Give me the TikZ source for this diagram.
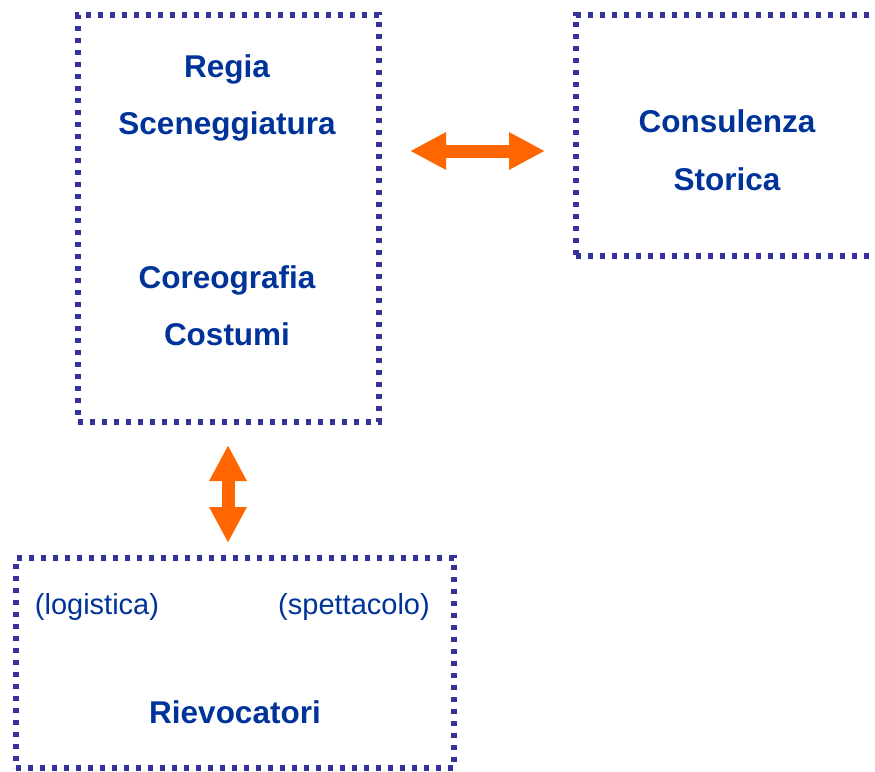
\documentclass[tikz,border=0pt]{standalone}
\usepackage{fontspec}
\setmainfont{Liberation Sans}
\usetikzlibrary{arrows.meta}
\definecolor{boxblue}{HTML}{333399}
\definecolor{txtblue}{HTML}{003399}
\definecolor{arrorange}{HTML}{FF6600}
\tikzset{
  dotbox/.style={draw=boxblue, line width=5.4pt, dash pattern=on 5.4pt off 6.6pt, fill=none, inner sep=0pt},
  boldtxt/.style={anchor=base, inner sep=0pt, text=txtblue, font=\fontsize{31.5}{38}\selectfont\bfseries},
  regtxt/.style={anchor=base, inner sep=0pt, text=txtblue, font=\fontsize{29}{35}\selectfont},
  bigarrow/.style={draw=arrorange, line width=13pt, {Triangle[length=36pt,width=35pt]}-{Triangle[length=36pt,width=35pt]}}
}
\begin{document}
\begin{tikzpicture}[x=1pt,y=-1pt]
\useasboundingbox (0,0) rectangle (875,771);
\clip (0,0) rectangle (875,771);
% boxes
\node[dotbox, minimum width=301pt, minimum height=407pt] (regia) at (228.5,218.5) {};
\node[dotbox, minimum width=440pt, minimum height=241pt] (consul) at (796,135.5) {};
\node[dotbox, minimum width=438pt, minimum height=210pt] (riev) at (235,663) {};
% texts
\node[boldtxt] (t1) at (227,77) {Regia};
\node[boldtxt] (t2) at (227,134) {Sceneggiatura};
\node[boldtxt] (t3) at (227,288) {Coreografia};
\node[boldtxt] (t4) at (227,345) {Costumi};
\node[boldtxt] (t5) at (727,132) {Consulenza};
\node[boldtxt] (t6) at (727,190) {Storica};
\node[boldtxt] (t7) at (235,723) {Rievocatori};
\node[regtxt] (t8) at (97,614) {(logistica)};
\node[regtxt] (t9) at (354,614) {(spettacolo)};
% arrows
\coordinate (h1) at (410,151);
\coordinate (h2) at (545,151);
\coordinate (v1) at (228,445);
\coordinate (v2) at (228,543);
\draw[bigarrow] (h1) -- (h2);
\draw[bigarrow] (v1) -- (v2);
\end{tikzpicture}
\end{document}
